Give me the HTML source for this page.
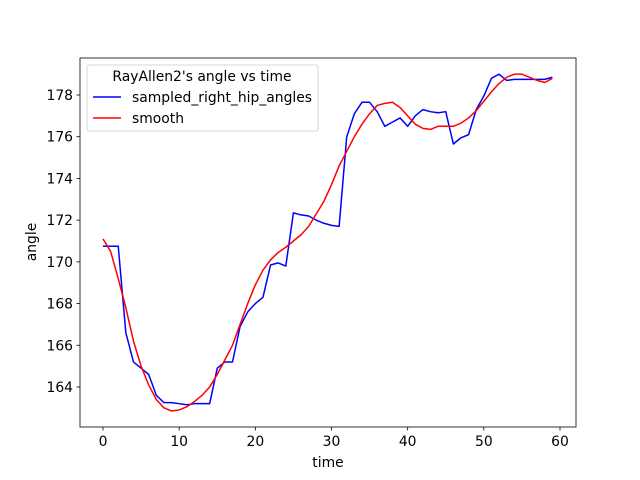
<!DOCTYPE html>
<html><head><meta charset="utf-8"><style>
body{margin:0;background:#fff}
svg{display:block;font-family:"DejaVu Sans","Liberation Sans",sans-serif}
</style></head><body>
<svg id="chart" width="640" height="480" xmlns="http://www.w3.org/2000/svg"></svg>
<script>
const timeValues = Array.from({length:60},(_,i)=>i);
const sampledAngles = [170.75,170.75,170.75,166.6,165.2,164.9,164.6,163.6,163.25,163.25,163.2,163.15,163.2,163.2,163.2,164.9,165.2,165.2,166.9,167.6,168.0,168.3,169.85,169.95,169.8,172.35,172.25,172.2,172.0,171.85,171.75,171.7,176.0,177.1,177.65,177.65,177.2,176.5,176.7,176.9,176.5,177.0,177.3,177.2,177.15,177.2,175.65,175.95,176.1,177.3,177.95,178.8,179.0,178.7,178.75,178.75,178.75,178.75,178.75,178.85];
const smoothAngles = [171.1,170.5,169.2,167.8,166.2,165.0,164.1,163.4,163.0,162.85,162.9,163.05,163.3,163.6,164.0,164.6,165.3,166.0,167.0,168.0,168.9,169.6,170.1,170.45,170.7,171.0,171.3,171.7,172.3,172.9,173.7,174.6,175.3,176.0,176.6,177.1,177.5,177.6,177.65,177.4,177.0,176.6,176.4,176.35,176.5,176.5,176.5,176.65,176.9,177.25,177.7,178.15,178.55,178.85,179.0,179.0,178.85,178.7,178.6,178.8];
const xTicks = [0,10,20,30,40,50,60];
const yTicks = [164,166,168,170,172,174,176,178];

const svg=document.getElementById('chart');
const NS='http://www.w3.org/2000/svg';
const L=80,R=576,T=58,B=427;
const FS=13.9;
const xs=v=>103+(v-0)*(560-103)/60;
const ys=v=>387-(v-164)*(387-95)/14;
function mk(tag,attrs,parent){const e=document.createElementNS(NS,tag);for(const k in attrs)e.setAttribute(k,attrs[k]);(parent||svg).appendChild(e);return e;}

const frame=mk('rect',{x:L,y:T,width:R-L,height:B-T,fill:'none',stroke:'#000','stroke-width':0.8});



xTicks.forEach(t=>{
  const g=mk('g',{});
  
  
  mk('line',{x1:xs(t),x2:xs(t),y1:B,y2:B+3.5,stroke:'#000','stroke-width':0.8},g);
  const tx=mk('text',{x:xs(t),y:B+19,'text-anchor':'middle','font-size':FS},g);tx.textContent=t;
});
yTicks.forEach(t=>{
  const g=mk('g',{});
  
  
  mk('line',{x1:L-3.5,x2:L,y1:ys(t),y2:ys(t),stroke:'#000','stroke-width':0.8},g);
  const tx=mk('text',{x:L-7,y:ys(t)+5,'text-anchor':'end','font-size':FS},g);tx.textContent=t;
});
const xl=mk('text',{x:328,y:467,'text-anchor':'middle','font-size':FS});xl.textContent='time';


const yl=mk('text',{x:36,y:242,'text-anchor':'middle','font-size':FS,transform:'rotate(-90 36 242)'});yl.textContent='angle';



function line(vals,color,name){
  const p=mk('polyline',{points:vals.map((v,i)=>xs(timeValues[i])+','+ys(v)).join(' '),fill:'none',stroke:color,'stroke-width':1.5,'stroke-linejoin':'round'});
  
  
}
line(sampledAngles,'#0000ff','sampled-line');
line(smoothAngles,'#ff0000','smooth-line');

const lg=mk('g',{});


mk('rect',{x:87,y:65,width:231,height:66,rx:2,fill:'#fff','fill-opacity':0.8,stroke:'#ccc','stroke-width':0.8},lg);
const lt=mk('text',{x:202,y:81,'text-anchor':'middle','font-size':FS},lg);lt.textContent="RayAllen2's angle vs time";
mk('line',{x1:93,x2:121,y1:97,y2:97,stroke:'#0000ff','stroke-width':1.5},lg);
const l1=mk('text',{x:132,y:102,'font-size':FS},lg);l1.textContent='sampled_right_hip_angles';
mk('line',{x1:93,x2:121,y1:118,y2:118,stroke:'#ff0000','stroke-width':1.5},lg);
const l2=mk('text',{x:132,y:123,'font-size':FS},lg);l2.textContent='smooth';
</script>
</body></html>
